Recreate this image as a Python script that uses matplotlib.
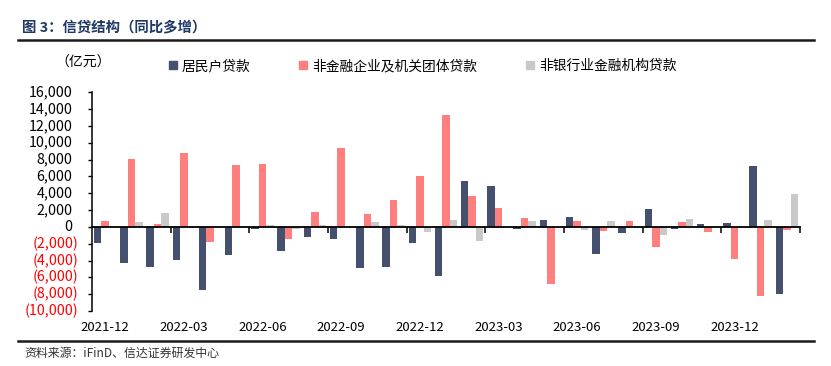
import matplotlib
matplotlib.use("Agg")
import matplotlib.pyplot as plt
import numpy as np
from matplotlib.lines import Line2D
from matplotlib.ticker import FixedLocator

plt.rcParams['font.family'] = ['Noto Sans CJK SC', 'DejaVu Sans']

months = ["2021-12", "2022-01", "2022-02", "2022-03", "2022-04", "2022-05", "2022-06",
          "2022-07", "2022-08", "2022-09", "2022-10", "2022-11", "2022-12",
          "2023-01", "2023-02", "2023-03", "2023-04", "2023-05", "2023-06",
          "2023-07", "2023-08", "2023-09", "2023-10", "2023-11", "2023-12",
          "2024-01", "2024-02"]
household = [-1900, -4300, -4800, -3930, -7470, -3400, -200, -2830, -1160, -1400, -4850, -4730,
             -1950, -5880, 5450, 4900, -250, 780, 1180, -3260, -690, 2090, -200, 300, 460,
             7240, -8020]
corporate = [700, 8100, 385, 8820, -1800, 7310, 7500, -1480, 1770, 9380, 1530, 3200,
             6010, 13260, 3670, 2210, 1060, -6750, 700, -530, 740, -2350, 540, -600, -3780,
             -8220, -410]
nonbank = [0, 580, 1600, -80, 0, 0, 200, -300, 180, 0, 580, 180,
           -570, 820, -1640, 0, 740, 0, -330, 700, 0, -920, 980, 0, 0,
           860, 3900]
series_names = ["居民户贷款", "非金融企业及机关团体贷款", "非银行业金融机构贷款"]
colors = ["#44506E", "#FF7F7F", "#C9C9C9"]
yticks = list(range(-10000, 16001, 2000))

W, H = 831, 366
fig = plt.figure(figsize=(W / 100, H / 100), dpi=100)
ax = fig.add_axes([92 / W, 1 - 311 / H, (800 - 92) / W, (311 - 92.3) / H])

x = np.arange(len(months))
bw = 0.285
for i, (vals, c, name) in enumerate(zip([household, corporate, nonbank], colors, series_names)):
    ax.bar(x + (i - 1) * bw, vals, width=bw, color=c, label=name, zorder=2)

ax.set_xlim(-0.5, len(months) - 0.5)
ax.set_ylim(-10000, 16000)

# y axis: ticks with manually placed labels (Excel-style accounting alignment)
ax.set_yticks(yticks)
ax.set_yticklabels([])
ax.tick_params(axis='y', direction='out', length=3, width=1)
for v in yticks:
    if v < 0:
        txt, col, off = f"({abs(v):,.0f})", 'red', 9.5
    else:
        txt, col, off = f"{v:,.0f}", 'black', 14
    ax.annotate(txt, xy=(0, v), xycoords=('axes fraction', 'data'), xytext=(-off, 0),
                textcoords='offset points', ha='right', va='center', fontsize=10.3,
                color=col, annotation_clip=False)

for s in ['top', 'right']:
    ax.spines[s].set_visible(False)
ax.spines['left'].set_linewidth(1.1)
ax.spines['bottom'].set_position(('data', 0))
ax.spines['bottom'].set_linewidth(1.3)
ax.spines['bottom'].set_zorder(3)

# boundary tick marks on zero line every 3 categories
bounds = np.arange(2.5, len(months), 3)
ax.xaxis.set_major_locator(FixedLocator(bounds))
ax.tick_params(axis='x', direction='out', length=4, width=1.1, labelbottom=False)

# category labels at bottom
sec = ax.secondary_xaxis('bottom')
sec.set_xticks(x[::3])
sec.set_xticklabels(months[::3])
sec.tick_params(axis='x', length=0, labelsize=9.5, pad=7)
sec.spines['bottom'].set_visible(False)

# header / footer
fig.text(22 / W, 1 - 27 / H, "图 3：信贷结构（同比多增）", fontsize=10.4, fontweight='bold',
         color='#1F3864', va='center', ha='left')
fig.add_artist(Line2D([18 / W, 814 / W], [1 - 40 / H] * 2, transform=fig.transFigure,
                      color='#1a1a1a', lw=1.8))
fig.add_artist(Line2D([18 / W, 814 / W], [1 - 341 / H] * 2, transform=fig.transFigure,
                      color='#1a1a1a', lw=1.8))
fig.text(24 / W, 1 - 353 / H, "资料来源：iFinD、信达证券研发中心", fontsize=8.6, color='#333333',
         va='center', ha='left')
fig.text(55 / W, 1 - 63 / H, "（亿元）", fontsize=10, va='center', ha='left')

handles = [Line2D([], [], marker='s', linestyle='none', markersize=6, color=c) for c in colors]
fig.legend(handles, series_names, loc='center left', bbox_to_anchor=(167 / W, 1 - 66 / H),
           ncol=3, frameon=False, fontsize=9.9, handlelength=0.8, handletextpad=0.25,
           columnspacing=3.45, borderaxespad=0, borderpad=0)

fig.savefig("out.png", dpi=100)
